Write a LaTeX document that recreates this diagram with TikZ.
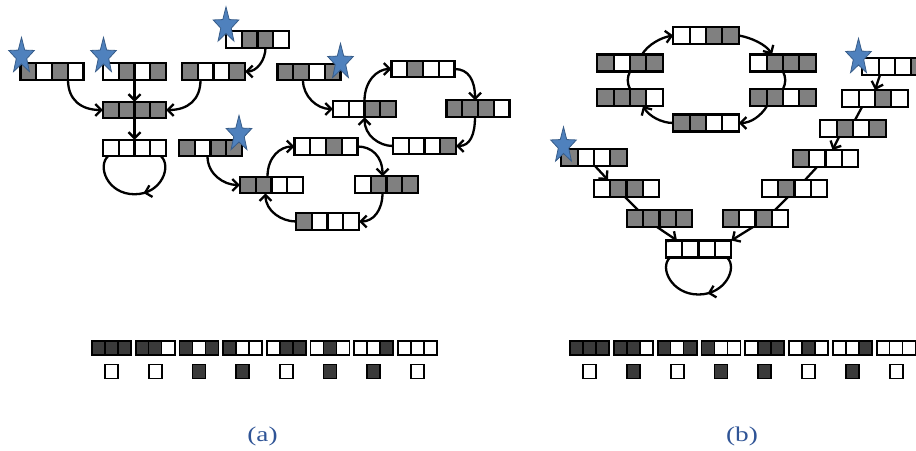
\documentclass[tikz,border=0pt]{standalone}
\usepackage{fontspec}
\usepackage{graphicx}
\setmainfont{Liberation Serif}
\usetikzlibrary{arrows.meta,calc,decorations.markings}
\definecolor{regg}{RGB}{128,128,128}
\definecolor{dk}{RGB}{58,58,58}
\definecolor{starfill}{RGB}{79,129,189}
\definecolor{stardraw}{RGB}{56,93,138}
\definecolor{lab}{RGB}{47,84,150}
\tikzset{
 regbox/.style={draw=black,line width=2.3pt,inner sep=0pt,outer sep=0pt},
 regline/.style={draw=black,line width=2.1pt},
 conn/.style={draw=black,line width=2.3pt,-{Straight Barb[length=6pt,width=12pt]}},
 plainc/.style={draw=black,line width=2.3pt},
 loopc/.style={draw=black,line width=2.3pt,postaction={decorate},
   decoration={markings,mark=at position 0.42 with {\arrow{Straight Barb[length=6pt,width=12pt]}}}},
 tribox/.style={draw=black,line width=1.8pt,inner sep=0pt,outer sep=0pt,minimum width=39pt,minimum height=14pt},
 sqbox/.style={draw=black,line width=1.8pt,inner sep=0pt,minimum width=13pt,minimum height=14pt},
 lbl/.style={text=lab,font=\fontsize{21}{25}\selectfont},
 bstar/.pic={\path[fill=starfill,draw=stardraw,line width=0.8pt]
   (-90:13.5) -- (-54:5.5) -- (-18:13.5) -- (18:5.5) -- (54:13.5) -- (90:5.5)
   -- (126:13.5) -- (162:5.5) -- (198:13.5) -- (234:5.5) -- cycle;}
}
% register: name, x, y, bits
\newcommand\regnode[4]{%
  \foreach \b [count=\i from 0] in {#4} {
    \ifnum\b=1 \fill[regg] ({#2-2*\cw+\i*\cw},{#3-\ch/2}) rectangle ++(\cw,\ch);\fi
    \ifnum\i>0 \draw[regline] ({#2-2*\cw+\i*\cw},{#3-\ch/2}) -- ++(0,\ch);\fi
  }
  \node[regbox,minimum width=4*\cw,minimum height=\ch] (#1) at (#2,#3) {};
}
% triplet: name, x left, y, bits
\newcommand\tripnode[4]{%
  \foreach \b [count=\i from 0] in {#4} {
    \ifnum\b=1 \fill[dk] ({#2+\i*13},{#3-7}) rectangle ++(13,14);\fi
    \ifnum\i>0 \draw[black,line width=1.5pt] ({#2+\i*13},{#3-7}) -- ++(0,14);\fi
  }
  \node[tribox] (#1) at (#2+19.5,#3) {};
}
\begin{document}
\begin{tikzpicture}[x=1pt,y=-1pt]
\useasboundingbox (0,0) rectangle (916,450);
\clip (0,0) rectangle (916,450);
% ---------------- (a)
\def\cw{15.8}\def\ch{16.5}
\regnode{A}{52}{71.5}{1,0,1,0}
\regnode{B}{134.5}{71.5}{0,1,0,1}
\regnode{C}{213.5}{71.5}{1,0,0,1}
\regnode{D}{257.5}{39.5}{0,1,1,0}
\regnode{M}{134.5}{110}{1,1,1,1}
\regnode{Z}{134.5}{148}{0,0,0,0}
\regnode{E}{210.5}{148}{1,0,1,1}
\regnode{F}{309}{72}{1,1,0,1}
\regnode{G}{364.5}{109}{0,0,1,1}
\regnode{H}{423}{69}{0,1,0,0}
\regnode{I}{478}{108.5}{1,1,1,0}
\regnode{J}{424.5}{146}{0,0,0,1}
\regnode{K}{271.5}{185}{1,1,0,0}
\regnode{L}{326}{146.5}{0,0,1,0}
\regnode{N}{386.5}{184.5}{0,1,1,1}
\regnode{O}{327.5}{221.5}{1,0,0,0}
\draw[conn] ($(A.south)+(16,0)$) .. controls +(0,20) and +(-22,0) .. (M.west);
\draw[conn] (B.south) -- (M.north);
\draw[conn] ($(C.south)+(-13,0)$) .. controls +(0,20) and +(22,0) .. (M.east);
\draw[conn] ($(D.south)+(8,0)$) .. controls +(0,12) and +(12,0) .. (C.east);
\draw[conn] (M.south) -- (Z.north);
\coordinate (zbot) at ($(Z.south)+(0,38)$);
\draw[loopc] ($(Z.south)+(26.5,0)$) .. controls +(11,10) and +(27,0) .. (zbot)
   .. controls +(-27,0) and +(-11,10) .. ($(Z.south)+(-26.5,0)$);
\draw[conn] ($(F.south)+(-6,0)$) .. controls +(0,16) and +(-16,0) .. (G.west);
\draw[conn] (G.north) .. controls +(0,-20) and +(-14,0) .. (H.west);
\draw[conn] (H.east) .. controls +(14,0) and +(0,-20) .. ($(I.north)+(-3,0)$);
\draw[conn] ($(I.south)+(-3,0)$) .. controls +(0,18) and +(14,0) .. (J.east);
\draw[conn] (J.west) .. controls +(-14,0) and +(0,18) .. (G.south);
\draw[conn] ($(E.south)+(-3,0)$) .. controls +(0,18) and +(-16,0) .. (K.west);
\draw[conn] ($(K.north)+(-4,0)$) .. controls +(0,-20) and +(-14,0) .. (L.west);
\draw[conn] (L.east) .. controls +(14,0) and +(0,-20) .. ($(N.north)+(-4,0)$);
\draw[conn] ($(N.south)+(-4,0)$) .. controls +(0,18) and +(14,0) .. (O.east);
\draw[conn] (O.west) .. controls +(-14,0) and +(0,18) .. ($(K.south)+(-6,0)$);
% ---------------- (b)
\def\cw{16.4}\def\ch{17}
\regnode{P}{706}{35.5}{0,0,1,1}
\regnode{Q}{783}{63}{0,1,1,1}
\regnode{R}{783}{97.5}{1,1,0,1}
\regnode{S}{706}{123}{1,1,0,0}
\regnode{T}{630}{97.5}{1,1,1,0}
\regnode{U}{630}{63}{1,0,1,1}
\regnode{V}{895}{66.5}{0,0,0,1}
\regnode{W}{875}{98.5}{0,0,1,0}
\regnode{X}{853}{128.5}{0,1,0,1}
\regnode{Y}{825.5}{158.5}{1,0,0,0}
\regnode{Yb}{794.5}{188.5}{0,1,0,0}
\regnode{Yc}{755.5}{218.5}{1,0,1,0}
\regnode{Zb}{698.5}{249}{0,0,0,0}
\regnode{La}{594}{157.5}{1,0,0,1}
\regnode{Lb}{626.5}{188.5}{0,1,1,0}
\regnode{Lc}{659.5}{218.5}{1,1,1,1}
\draw[conn] ($(U.north)+(12,0)$) .. controls +(6,-10) and +(-12,2) .. (P.west);
\draw[conn] (P.east) .. controls +(12,2) and +(-6,-10) .. ($(Q.north)+(-11,0)$);
\draw[plainc] (Q.south) .. controls +(3,6) and +(3,-6) .. (R.north);
\draw[conn] ($(R.south)+(-16,0)$) .. controls +(-6,10) and +(12,0) .. (S.east);
\draw[conn] (S.west) .. controls +(-12,0) and +(6,10) .. ($(T.south)+(13,0)$);
\draw[plainc] (T.north) .. controls +(-3,-6) and +(-3,6) .. (U.south);
\draw[conn] ($(V.south)+(-15,0)$) -- (W.north);
\draw[plainc] ($(W.south)+(-13,0)$) -- ($(X.north)+(2,0)$);
\draw[conn] ($(X.south)+(-14,0)$) -- ($(Y.north)+(7,0)$);
\draw[plainc] ($(Y.south)+(-8.5,0)$) -- ($(Yb.north)+(10.5,0)$);
\draw[plainc] ($(Yb.south)+(-6.5,0)$) -- ($(Yc.north)+(19.5,0)$);
\draw[conn] ($(Yc.south)+(-2.5,0)$) -- (Zb.north east);
\draw[conn] ($(La.south)+(1,0)$) -- ($(Lb.north)+(-18.5,0)$);
\draw[plainc] ($(Lb.south)+(-1.5,0)$) -- ($(Lc.north)+(-21.5,0)$);
\draw[conn] ($(Lc.south)+(-2.5,0)$) -- ($(Zb.north)+(-21.5,0)$);
\coordinate (zbbot) at ($(Zb.south)+(0,37)$);
\draw[loopc] ($(Zb.south)+(28.5,0)$) .. controls +(11,10) and +(27,0) .. (zbbot)
   .. controls +(-27,0) and +(-11,10) .. ($(Zb.south)+(-28.5,0)$);
% ---------------- stars
\pic[yscale=1.4] at (21.5,56.3) {bstar};
\pic[yscale=1.4] at (103.5,56.3) {bstar};
\pic[yscale=1.4] at (226,25.8) {bstar};
\pic[yscale=1.4] at (239,134.3) {bstar};
\pic[yscale=1.4] at (340.5,62.3) {bstar};
\pic[yscale=1.4] at (858.5,57.3) {bstar};
\pic[yscale=1.4] at (563.5,145.8) {bstar};
% ---------------- truth tables
\tripnode{ta0}{92}{348}{1,1,1}
\tripnode{ta1}{135.7}{348}{1,1,0}
\tripnode{ta2}{179.4}{348}{1,0,1}
\tripnode{ta3}{223.1}{348}{1,0,0}
\tripnode{ta4}{266.8}{348}{0,1,1}
\tripnode{ta5}{310.5}{348}{0,1,0}
\tripnode{ta6}{354.2}{348}{0,0,1}
\tripnode{ta7}{397.9}{348}{0,0,0}
\node[sqbox,fill=white] (sa0) at (111.5,371.5) {};
\node[sqbox,fill=white] (sa1) at (155.2,371.5) {};
\node[sqbox,fill=dk] (sa2) at (198.9,371.5) {};
\node[sqbox,fill=dk] (sa3) at (242.6,371.5) {};
\node[sqbox,fill=white] (sa4) at (286.3,371.5) {};
\node[sqbox,fill=dk] (sa5) at (330,371.5) {};
\node[sqbox,fill=dk] (sa6) at (373.7,371.5) {};
\node[sqbox,fill=white] (sa7) at (417.4,371.5) {};
\tripnode{tb0}{570}{348}{1,1,1}
\tripnode{tb1}{613.8}{348}{1,1,0}
\tripnode{tb2}{657.6}{348}{1,0,1}
\tripnode{tb3}{701.4}{348}{1,0,0}
\tripnode{tb4}{745.2}{348}{0,1,1}
\tripnode{tb5}{789}{348}{0,1,0}
\tripnode{tb6}{832.8}{348}{0,0,1}
\tripnode{tb7}{876.6}{348}{0,0,0}
\node[sqbox,fill=white] (sb0) at (589.5,371.5) {};
\node[sqbox,fill=dk] (sb1) at (633.3,371.5) {};
\node[sqbox,fill=white] (sb2) at (677.1,371.5) {};
\node[sqbox,fill=dk] (sb3) at (720.9,371.5) {};
\node[sqbox,fill=dk] (sb4) at (764.7,371.5) {};
\node[sqbox,fill=white] (sb5) at (808.5,371.5) {};
\node[sqbox,fill=dk] (sb6) at (852.3,371.5) {};
\node[sqbox,fill=white] (sb7) at (896.1,371.5) {};
% ---------------- labels
\node[lbl] (la) at (262.5,436.5) {\scalebox{1.3}[1]{(a)}};
\node[lbl] (lb) at (742,436.5) {\scalebox{1.3}[1]{(b)}};
\end{tikzpicture}
\end{document}
